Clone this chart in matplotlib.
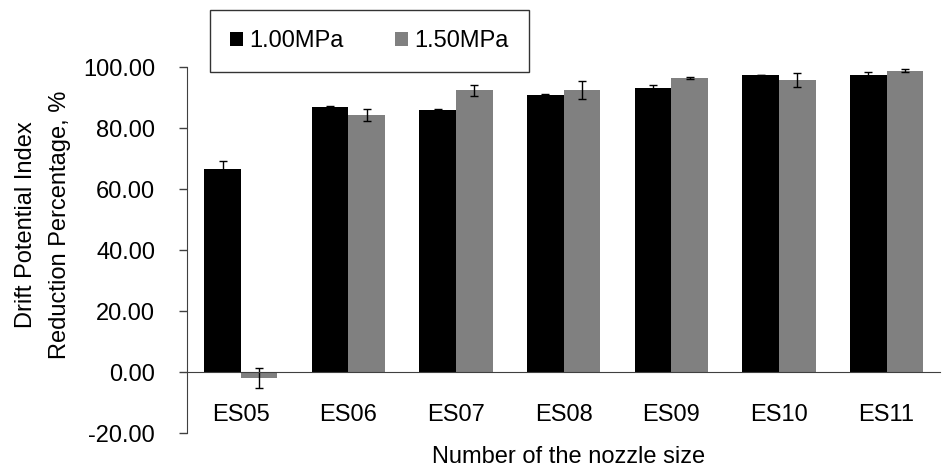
import matplotlib
matplotlib.use('Agg')
import matplotlib.pyplot as plt
import numpy as np
from matplotlib.ticker import FormatStrFormatter

plt.rcParams['font.family'] = ['Liberation Sans', 'DejaVu Sans']

# ---------------------------------------------------------------------
# DATA
# ---------------------------------------------------------------------
nozzles = ['ES05', 'ES06', 'ES07', 'ES08', 'ES09', 'ES10', 'ES11']
series_names = ['1.00MPa', '1.50MPa']
dpi_100 = [66.6, 86.8, 86.0, 90.9, 93.2, 97.5, 97.4]
err_100 = [2.5, 0.4, 0.3, 0.3, 1.0, 0.0, 0.9]
dpi_150 = [-2.0, 84.2, 92.4, 92.4, 96.5, 95.8, 98.8]
err_150 = [3.3, 2.0, 1.8, 2.9, 0.3, 2.2, 0.4]

colors = ['#000000', '#808080']
FS = 17

fig = plt.figure(figsize=(9.47, 4.70), dpi=100)
ax = fig.add_axes([0.1975, 0.0787, 0.7955, 0.7787])

x = np.arange(len(nozzles))
w = 0.34
ekw = dict(elinewidth=1, ecolor='black', capthick=1)
ax.bar(x - w / 2, dpi_100, w, color=colors[0], label=series_names[0],
       yerr=err_100, capsize=2.7, error_kw=ekw)
ax.bar(x + w / 2, dpi_150, w, color=colors[1], label=series_names[1],
       yerr=err_150, capsize=2.7, error_kw=ekw)

ax.set_xlim(-0.5, len(nozzles) - 0.5)
ax.set_ylim(-20, 100)
ax.set_yticks(np.arange(-20, 101, 20))
ax.yaxis.set_major_formatter(FormatStrFormatter('%.2f'))

ax.spines['top'].set_visible(False)
ax.spines['right'].set_visible(False)
ax.spines['bottom'].set_position(('data', 0))
ax.spines['bottom'].set_color('#404040')
ax.spines['left'].set_color('#404040')

ax.set_xticks(x)
ax.set_xticklabels(nozzles)
ax.tick_params(axis='x', length=0, pad=23, labelsize=FS)
ax.tick_params(axis='y', length=6, width=1, color='#404040', pad=17, labelsize=FS)

fig.text(0.045, 1 - 225 / 470, 'Drift Potential Index\nReduction Percentage, %',
         rotation=90, ha='center', va='center', fontsize=FS, linespacing=1.7,
         multialignment='center')
fig.text(569 / 947, 1 - 457 / 470, 'Number of the nozzle size',
         ha='center', va='center', fontsize=FS)

leg = fig.legend(loc='center', bbox_to_anchor=(0.390, 0.9128), ncol=2, fontsize=FS,
                 frameon=True, fancybox=False, handlelength=0.55, handleheight=0.55,
                 handletextpad=0.25, columnspacing=2.2, borderpad=0.85)
leg.get_frame().set_edgecolor('#000000')
leg.get_frame().set_linewidth(1)

fig.savefig('out.png', dpi=100)
